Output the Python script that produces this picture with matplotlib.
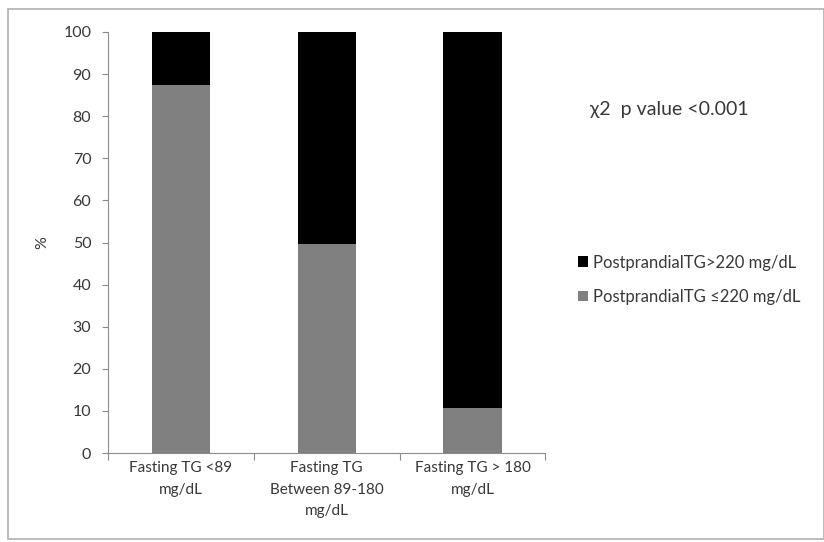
import matplotlib.pyplot as plt
from matplotlib.patches import Rectangle

plt.rcParams['font.family'] = ['Lato', 'DejaVu Sans']

categories = ['Fasting TG <89\nmg/dL', 'Fasting TG\nBetween 89-180\nmg/dL', 'Fasting TG > 180\nmg/dL']
low_pct = [87.5, 49.6, 10.7]          # PostprandialTG <=220
high_pct = [100 - v for v in low_pct]  # PostprandialTG >220

txt = '#383838'
axc = '#8c8c8c'

fig = plt.figure(figsize=(8.24, 5.42), dpi=100)
fig.patches.append(Rectangle((0.010, 0.006), 0.990, 0.977, transform=fig.transFigure,
                             fill=False, edgecolor='#b0b0b0', linewidth=1.2))
ax = fig.add_axes([0.131, 0.164, 0.531, 0.777])

x = range(len(categories))
ax.bar(x, low_pct, width=0.4, color='#808080', label='PostprandialTG \u2264220 mg/dL')
ax.bar(x, high_pct, width=0.4, bottom=low_pct, color='black', label='PostprandialTG>220 mg/dL')

ax.set_xlim(-0.5, 2.5)
ax.set_ylim(0, 100)
ax.set_yticks(range(0, 101, 10))
ax.set_xticks([-0.5, 0.5, 1.5, 2.5])
ax.set_xticklabels([])
ax.set_xticks(list(x), minor=True)
ax.set_xticklabels(categories, minor=True, fontsize=11, color=txt, linespacing=1.65)
ax.tick_params(axis='x', which='minor', length=0, pad=6)
ax.tick_params(axis='x', which='major', length=5, color=axc)
ax.tick_params(axis='y', length=4, color=axc, labelsize=11.5, labelcolor=txt, pad=8)
for s in ['top', 'right']:
    ax.spines[s].set_visible(False)
for s in ['left', 'bottom']:
    ax.spines[s].set_color(axc)
ax.set_ylabel('%', color=txt, fontsize=11.5, labelpad=10)

handles, labels = ax.get_legend_handles_labels()
fig.legend(handles[::-1], labels[::-1], loc='center left', bbox_to_anchor=(0.683, 0.484),
           frameon=False, fontsize=12, labelcolor=txt, handlelength=0.6, handleheight=0.6,
           handletextpad=0.3, labelspacing=1.1)
fig.text(0.716, 0.788, '\u03c72  p value <0.001', fontsize=14, color=txt)

fig.savefig('out.png', dpi=100)
